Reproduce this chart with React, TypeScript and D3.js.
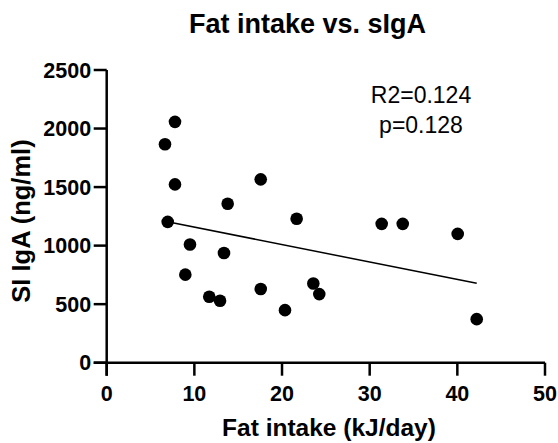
import React from "react";
import * as d3 from "d3";

const fatIntake = [7.79, 6.65, 7.79, 17.57, 13.8, 21.67, 6.96, 9.5, 13.38, 8.97, 11.7, 12.93, 17.57, 23.57, 24.25, 20.34, 31.37, 33.77, 40.04, 42.21];
const sIgA = [2057, 1866, 1523, 1566, 1358, 1229, 1203, 1009, 937, 752, 563, 529, 629, 677, 586, 449, 1186, 1186, 1100, 372];
const xTicks = [0, 10, 20, 30, 40, 50];
const yTicks = [0, 500, 1000, 1500, 2000, 2500];
const fitSlope = [-14.9];
const fitIntercept = [1307];
const statsLines = ["R2=0.124", "p=0.128"];

const W = 558;
const H = 443;
const FONT = "Arial, 'Liberation Sans', Helvetica, sans-serif";

export default function App() {
  const x = d3.scaleLinear().domain([0, 50]).range([106.7, 545]);
  const y = d3.scaleLinear().domain([0, 2500]).range([362.7, 70]);
  const xmin = d3.min(fatIntake) as number;
  const xmax = d3.max(fatIntake) as number;
  const fit = (v: number) => fitIntercept[0] + fitSlope[0] * v;
  const line = d3.line<number>().x((d) => x(d)).y((d) => y(fit(d)));
  const tickLen = 13;
  const sw = 2.5;

  return (
    <svg
      width={W}
      height={H}
      style={{ position: "absolute", left: 0, top: 0, background: "#fff" }}
      fontFamily={FONT}
    >
      <rect width={W} height={H} fill="#fff" />
      <text x={307.5} y={33} textAnchor="middle" fontSize={27} fontWeight="bold">
        Fat intake vs. sIgA
      </text>

      {/* Y axis */}
      <line x1={x(0)} x2={x(0)} y1={y(2500)} y2={y(0) + tickLen} stroke="#000" strokeWidth={sw} />
      {yTicks.map((t) => (
        <g key={"y" + t}>
          <line x1={x(0) - tickLen} x2={x(0)} y1={y(t)} y2={y(t)} stroke="#000" strokeWidth={sw} />
          <text x={x(0) - tickLen - 2.5} y={y(t)} dy="0.36em" textAnchor="end" fontSize={21.5} fontWeight="bold">
            {t}
          </text>
        </g>
      ))}

      {/* X axis */}
      <line x1={x(0) - tickLen} x2={x(50)} y1={y(0)} y2={y(0)} stroke="#000" strokeWidth={sw} />
      {xTicks.map((t) => (
        <g key={"x" + t}>
          <line x1={x(t)} x2={x(t)} y1={y(0)} y2={y(0) + tickLen} stroke="#000" strokeWidth={sw} />
          <text x={x(t)} y={400.5} textAnchor="middle" fontSize={21.5} fontWeight="bold">
            {t}
          </text>
        </g>
      ))}

      <text x={329} y={436} textAnchor="middle" fontSize={24.5} fontWeight="bold">
        Fat intake (kJ/day)
      </text>
      <text
        transform={`translate(30,${221}) rotate(-90)`}
        textAnchor="middle"
        fontSize={25.5}
        fontWeight="bold"
      >
        SI IgA (ng/ml)
      </text>

      {/* Fit line */}
      <path d={line([xmin, xmax]) || ""} fill="none" stroke="#000" strokeWidth={1.5} />

      {/* Points */}
      {fatIntake.map((v, i) => (
        <circle key={i} cx={x(v)} cy={y(sIgA[i])} r={6.3} fill="#000" />
      ))}

      {statsLines.map((s, i) => (
        <text key={s} x={421} y={103.3 + i * 30} textAnchor="middle" fontSize={23}>
          {s}
        </text>
      ))}
    </svg>
  );
}
